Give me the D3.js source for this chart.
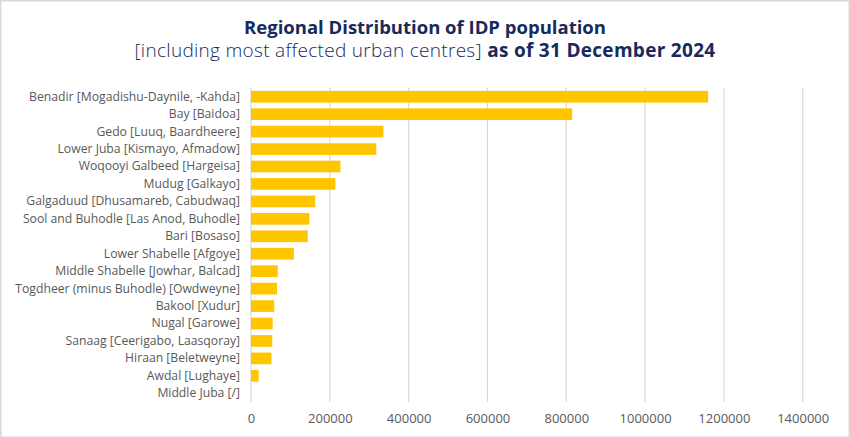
<!DOCTYPE html>
<html>
<head>
<meta charset="utf-8">
<script src="https://cdn.jsdelivr.net/npm/d3@7"></script>
<style>
  body { margin: 0; background: #fff; }
  svg { display: block; font-family: "Open Sans", Lato, sans-serif; }
</style>
</head>
<body>
<svg id="chart" width="850" height="438"></svg>
<script>
// regions, top to bottom
var regions = [
	"Benadir [Mogadishu-Daynile, -Kahda]",
	"Bay [Baidoa]",
	"Gedo [Luuq, Baardheere]",
	"Lower Juba [Kismayo, Afmadow]",
	"Woqooyi Galbeed [Hargeisa]",
	"Mudug [Galkayo]",
	"Galgaduud [Dhusamareb, Cabudwaq]",
	"Sool and Buhodle [Las Anod, Buhodle]",
	"Bari [Bosaso]",
	"Lower Shabelle [Afgoye]",
	"Middle Shabelle [Jowhar, Balcad]",
	"Togdheer (minus Buhodle) [Owdweyne]",
	"Bakool [Xudur]",
	"Nugal [Garowe]",
	"Sanaag [Ceerigabo, Laasqoray]",
	"Hiraan [Beletweyne]",
	"Awdal [Lughaye]",
	"Middle Juba [/]"
];

// IDP population
var idps = [1160000, 815000, 336000, 318000, 227000, 214000, 163000, 148000, 144000,
	109000, 68000, 66000, 59000, 55000, 54000, 52000, 19500, 0];

var xTicks = [0, 200000, 400000, 600000, 800000, 1000000, 1200000, 1400000];

var data = regions.map(function (r, i) { return { region: r, value: idps[i] }; });

var svg = d3.select("#chart");
var W = 850, H = 438;
var plotLeft = 251, plotRight = 802.7, plotTop = 88, plotBottom = 402;

svg.append("rect")
	.attr("x", 0.5).attr("y", 0.5)
	.attr("width", W - 1).attr("height", H - 1)
	.attr("fill", "#fff")
	.attr("stroke", "#d9d9d9")
	.attr("stroke-width", 2);

svg.append("text")
	.attr("x", 425)
	.attr("y", 34)
	.attr("text-anchor", "middle")
	.attr("fill", "#172a5c")
	.style("font-size", "18.5px")
	.style("font-weight", 700)
	.text("Regional Distribution of IDP population");

var sub = svg.append("text")
	.attr("x", 425)
	.attr("y", 57)
	.attr("text-anchor", "middle")
	.attr("fill", "#172a5c")
	.style("font-size", "19px")
	.style("letter-spacing", "0.3px");
sub.append("tspan").style("font-weight", 300).text("[including most affected urban centres] ");
sub.append("tspan").style("font-weight", 700).text("as of 31 December 2024");

var x = d3.scaleLinear().domain([0, 1400000]).range([plotLeft, plotRight]);
var y = d3.scaleBand().domain(regions).range([plotTop, plotBottom]).paddingInner(0.33).paddingOuter(0.165);

// gridlines
svg.append("g")
	.selectAll("line")
	.data(xTicks)
	.enter()
  .append("line")
	.attr("x1", function (d) { return x(d); })
	.attr("x2", function (d) { return x(d); })
	.attr("y1", plotTop)
	.attr("y2", plotBottom)
	.attr("stroke", "#d9d9d9")
	.attr("stroke-width", 1.2);

svg.append("g")
	.selectAll("rect")
	.data(data)
	.enter()
  .append("rect")
	.attr("x", x(0))
	.attr("y", function (d) { return y(d.region); })
	.attr("width", function (d) { return x(d.value) - x(0); })
	.attr("height", y.bandwidth())
	.attr("fill", "#ffc600");

var xAxis = svg.append("g")
	.attr("transform", "translate(0," + plotBottom + ")")
	.call(d3.axisBottom(x).tickValues(xTicks).tickFormat(d3.format("d")).tickSize(0).tickPadding(12));
xAxis.select(".domain").remove();
xAxis.selectAll("text")
	.attr("fill", "#595959")
	.style("font-size", "13px")
	.style("font-family", "'Open Sans', sans-serif");

var yAxis = svg.append("g")
	.attr("transform", "translate(240,0)")
	.call(d3.axisLeft(y).tickSize(0).tickPadding(0));
yAxis.select(".domain").remove();
yAxis.selectAll("text")
	.attr("fill", "#595959")
	.style("font-size", "12.2px")
	.style("font-family", "'Open Sans', sans-serif");
</script>
</body>
</html>
